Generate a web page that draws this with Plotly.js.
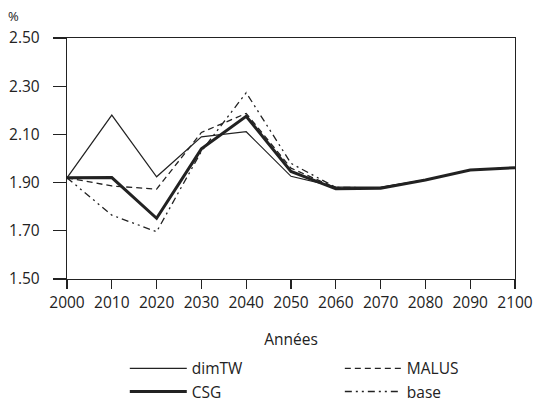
<!DOCTYPE html>
<html><head><meta charset="utf-8">
<script src="https://cdn.plot.ly/plotly-3.0.1.min.js"></script>
<style>html,body{margin:0;padding:0;background:#fff}#c{width:535px;height:405px}</style>
</head><body><div id="c"></div>
<script>
const years = [2000,2010,2020,2030,2040,2050,2060,2070,2080,2090,2100];
const dimTW = [1.92,2.18,1.924,2.09,2.111,1.926,1.882,1.881,1.911,1.952,1.962];
const MALUS = [1.92,1.886,1.873,2.108,2.187,1.96,1.878,1.879,1.911,1.952,1.962];
const CSG   = [1.92,1.921,1.752,2.04,2.175,1.946,1.874,1.877,1.911,1.952,1.962];
const base  = [1.92,1.765,1.696,2.03,2.273,1.98,1.88,1.879,1.911,1.952,1.962];
const yTicks = [1.5,1.7,1.9,2.1,2.3,2.5];
const col = '#222';
const fam = 'Open Sans, Noto Sans, sans-serif';
const fs = 15.5;
const traces = [
  {name:'dimTW', x:years, y:dimTW, mode:'lines', line:{color:col, width:1.2}, legend:'legend'},
  {name:'MALUS', x:years, y:MALUS, mode:'lines', line:{color:col, width:1.3, dash:'6px,4px'}, legend:'legend2'},
  {name:'CSG', x:years, y:CSG, mode:'lines', line:{color:col, width:3}, legend:'legend'},
  {name:'base', x:years, y:base, mode:'lines', line:{color:col, width:1.3, dash:'7px,4px,2px,4px,2px,4px'}, legend:'legend2'}
];
const legBase = {orientation:'v', xanchor:'left', yanchor:'top', y:-0.302, traceorder:'normal',
  font:{family:fam, size:fs, color:col}, tracegroupgap:0, itemwidth:57, bgcolor:'rgba(0,0,0,0)'};
const layout = {
  width:535, height:405,
  margin:{l:67, r:20, t:38, b:126, autoexpand:false},
  paper_bgcolor:'#fff', plot_bgcolor:'#fff',
  font:{family:fam, size:fs, color:col},
  showlegend:true,
  legend:Object.assign({}, legBase, {x:0.129}),
  legend2:Object.assign({}, legBase, {x:0.609}),
  xaxis:{range:[2000,2100], tickvals:years, ticktext:years.map(String),
         showgrid:false, zeroline:false, showline:true, linecolor:col, linewidth:1.2, mirror:true,
         ticks:'outside', ticklen:9, tickcolor:col, tickwidth:1.2,
         title:{text:'Années', font:{family:fam, size:fs, color:col}, standoff:22},
         tickfont:{family:fam, size:fs, color:col}},
  yaxis:{range:[1.5,2.5], tickvals:yTicks, ticktext:yTicks.map(v=>v.toFixed(2)),
         showgrid:false, zeroline:false, showline:true, linecolor:col, linewidth:1.2, mirror:true,
         ticks:'outside', ticklen:13, tickcolor:col, tickwidth:1.2, ticklabelstandoff:10,
         tickfont:{family:fam, size:fs, color:col}},
  annotations:[{text:'%', xref:'paper', yref:'paper', x:-0.12, y:1.0, yshift:22, xanchor:'center', yanchor:'middle',
    showarrow:false, font:{family:fam, size:13, color:col}}]
};
Plotly.newPlot('c', traces, layout, {staticPlot:true, displayModeBar:false});
</script></body></html>
